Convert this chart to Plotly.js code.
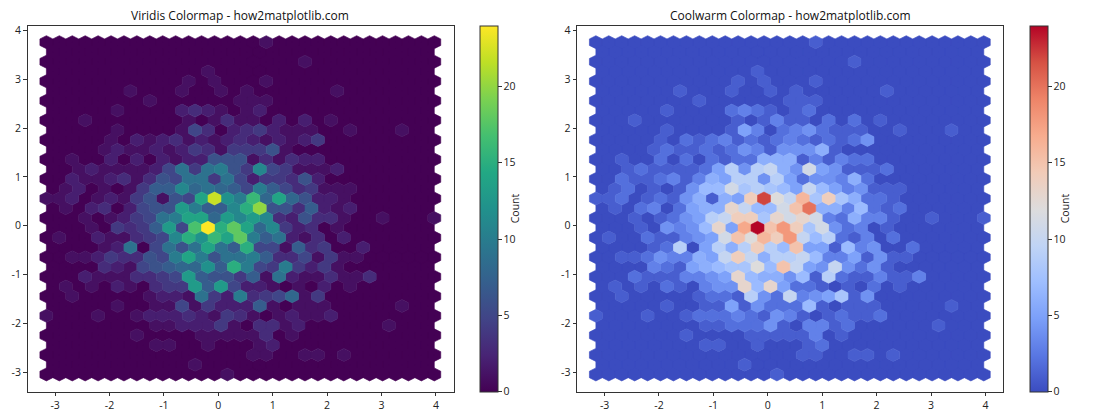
<!DOCTYPE html>
<html>
<head>
<meta charset="utf-8">
<script src="https://cdn.plot.ly/plotly-3.0.1.min.js"></script>
<style>html,body{margin:0;padding:0;background:#fff}#chart{width:1120px;height:420px}</style>
</head>
<body>
<div id="chart"></div>
<script>
// Hexbin counts, top row first. Even rows sit on the 31-column lattice, odd rows on the
// 30-column lattice shifted half a bin. Columns not listed at the end of a row are 0.
const r00=[0,0,0,0,0,0,0,0,0,0,0,0,0,0,0,0,0,1];
const r01=[];
const r02=[0,0,0,0,0,0,0,0,0,0,0,0,0,0,0,0,0,0,0,0,1];
const r03=[0,0,0,0,0,0,0,0,0,0,0,0,1];
const r04=[0,0,0,0,0,0,0,0,0,0,0,1,0,1,0,0,0,1];
const r05=[0,0,0,0,0,0,1,0,0,0,1,0,0,1,0,1,0,0,0,0,0,0,1];
const r06=[0,0,0,0,0,0,0,0,1,0,0,0,0,0,0,1,1,1];
const r07=[0,0,0,0,0,1,0,0,0,0,2,3,2,1,0,1,2];
const r08=[0,0,0,1,0,0,0,0,0,0,0,1,0,1,3,1,1,0,2,0,2,0,1];
const r09=[0,0,0,0,0,1,0,0,0,0,1,5,3,0,2,3,4,2,1,1,1,0,0,1,0,0,0,1];
const r10=[0,0,0,0,0,1,0,2,1,2,3,1,2,1,2,3,2,1,2,1,2,4];
const r11=[0,0,0,0,1,2,1,1,2,1,2,4,3,1,4,4,4,6,1];
const r12=[0,0,1,0,0,2,0,2,0,2,1,2,2,6,6,6,1,3,1,3,2,2];
const r13=[0,0,1,2,1,1,1,1,2,5,9,4,9,10,6,4,11,5,4,1,1,1,2];
const r14=[0,0,2,1,1,2,3,1,3,6,5,9,9,4,9,5,2,4,4,3,6,2];
const r15=[0,1,2,0,1,0,1,4,7,7,11,8,9,8,7,5,10,7,5,3,4,1,1,1];
const r16=[1,1,2,0,1,2,1,4,6,1,6,5,14,22,12,10,16,8,14,8,6,2,2,1];
const r17=[0,1,0,2,3,0,2,5,6,6,13,10,7,7,11,15,20,6,6,3,7,2,1,2];
const r18=[0,0,0,1,0,1,2,4,5,9,10,14,14,8,13,11,13,11,3,2,6,3,3,1,0,0,1,0,0,0,1];
const r19=[0,0,0,1,0,4,3,4,7,13,5,17,24,15,18,14,8,11,4,2,3,0,1];
const r20=[0,1,0,0,2,1,1,3,4,5,11,15,12,16,14,18,10,7,9,2,1,3,0,2];
const r21=[0,0,0,0,1,2,9,0,5,9,6,9,14,9,7,15,5,5,1,7,3,4,0,0,2];
const r22=[0,0,1,1,2,4,3,3,6,5,10,14,10,6,9,9,10,7,3,3,5,1,4,1,1];
const r23=[0,0,0,0,3,2,1,5,6,7,8,8,12,7,15,10,5,4,10,4,2,4,1];
const r24=[0,0,0,2,1,1,1,3,3,4,5,13,7,6,6,4,7,1,9,2,1,1,3,1,1,3];
const r25=[0,1,0,1,0,2,1,0,3,4,4,13,7,13,5,2,2,1,0,1,0,2,0,1];
const r26=[0,0,1,0,0,0,0,0,1,2,2,1,9,4,2,10,3,4,5,8,1,4];
const r27=[0,0,0,0,0,1,0,0,1,1,5,1,4,2,2,2,7,1,0,1,1,1,0,0,0,0,0,1];
const r28=[1,0,0,0,1,0,0,1,2,2,2,3,2,1,4,3,1,0,1,2,1,1,2];
const r29=[0,0,0,0,0,0,0,0,1,1,2,2,2,4,1,0,3,3,1,2,0,0,0,0,0,0,1];
const r30=[0,0,0,0,0,0,0,1,0,0,0,0,1,1,1,1,1,3,0,1];
const r31=[0,0,0,0,0,0,0,0,1,1,0,0,1,0,0,0,1,2];
const r32=[0,0,0,0,0,0,0,0,0,0,0,0,0,0,0,0,1,1,0,0,1,1,0,1];
const r33=[0,0,0,0,0,0,0,0,0,0,0,1];
const r34=[0,0,0,0,0,0,0,0,0,0,0,0,0,0,1];
const hexRows=[r00,r01,r02,r03,r04,r05,r06,r07,r08,r09,r10,r11,r12,r13,r14,r15,r16,r17,
               r18,r19,r20,r21,r22,r23,r24,r25,r26,r27,r28,r29,r30,r31,r32,r33,r34];

const xMin=-3.16, xMax=3.97, yTop=3.755, yBottom=-3.04, nCols=30, nBinsY=17, vMax=24;
const xTicks=[-3,-2,-1,0,1,2,3,4], yTicks=[-3,-2,-1,0,1,2,3,4], cbarTicks=[0,5,10,15,20];
const viridis=['#440154','#482475','#414487','#355f8d','#2a788e','#21918c','#22a884','#44bf70','#7ad151','#bddf26','#fde725'];
const coolwarm=['#3b4cc0','#5977e3','#7b9ff9','#9ebeff','#c0d4f5','#dddcdc','#f2cbb7','#f7ac8e','#ee8468','#d65244','#b40426'];
const panels=[
  {title:'Viridis Colormap - how2matplotlib.com',stops:viridis,xa:'x',ya:'y',left:27.5,right:453.5,cbar:480},
  {title:'Coolwarm Colormap - how2matplotlib.com',stops:coolwarm,xa:'x2',ya:'y2',left:577,right:1003,cbar:1030}
];

const W=1120,H=420,plotTop=26,plotBottom=391.5;
const sx=(xMax-xMin)/nCols, sy=(yTop-yBottom)/nBinsY;

function hex2rgb(h){return [1,3,5].map(i=>parseInt(h.substr(i,2),16));}
function colorAt(stops,t){
  const p=Math.min(t,1)*(stops.length-1),i=Math.min(Math.floor(p),stops.length-2),f=p-i;
  const a=hex2rgb(stops[i]),b=hex2rgb(stops[i+1]);
  return 'rgb('+a.map((v,k)=>Math.round(v+(b[k]-v)*f)).join(',')+')';
}
function cells(){
  const out=[];
  hexRows.forEach((row,r)=>{
    const odd=r%2===1,n=odd?nCols:nCols+1;
    for(let c=0;c<n;c++){
      out.push({x:xMin+(c+(odd?0.5:0))*sx,y:yTop-r*sy/2,v:row[c]||0});
    }
  });
  return out;
}
const all=cells();
const traces=[];
panels.forEach(p=>{
  for(let v=0;v<=vMax;v++){
    const xs=[],ys=[];
    all.filter(c=>c.v===v).forEach(c=>{
      xs.push(c.x+sx/2,c.x+sx/2,c.x,c.x-sx/2,c.x-sx/2,c.x,c.x+sx/2,null);
      ys.push(c.y-sy/6,c.y+sy/6,c.y+sy/3,c.y+sy/6,c.y-sy/6,c.y-sy/3,c.y-sy/6,null);
    });
    if(!xs.length) continue;
    const col=colorAt(p.stops,v/vMax);
    traces.push({type:'scatter',mode:'lines',x:xs,y:ys,xaxis:p.xa,yaxis:p.ya,fill:'toself',fillcolor:col,
      line:{color:col,width:0.6},hoverinfo:'skip',showlegend:false});
  }
  traces.push({type:'scatter',mode:'markers',x:all.map(c=>c.x),y:all.map(c=>c.y),xaxis:p.xa,yaxis:p.ya,
    showlegend:false,hovertemplate:'%{x:.2f}, %{y:.2f}<br>Count %{marker.color}<extra></extra>',
    marker:{size:1,color:all.map(c=>c.v),cmin:0,cmax:vMax,
      colorscale:p.stops.map((s,i)=>[i/(p.stops.length-1),s]),
      colorbar:{x:p.cbar/W,xref:'paper',xanchor:'left',xpad:0,ypad:0,y:1-plotBottom/H,yref:'paper',yanchor:'bottom',
        len:(plotBottom-plotTop)/H,lenmode:'fraction',thickness:18,thicknessmode:'pixels',
        outlinewidth:1,outlinecolor:'#333',tickmode:'array',tickvals:cbarTicks,ticks:'outside',ticklen:3.5,tickwidth:1,tickcolor:'#333',
        tickfont:{family:FONT(),size:10.5,color:'#222'},
        title:{text:'Count',side:'right',font:{family:FONT(),size:10.5,color:'#222'}}}}});
});
function FONT(){return '"Open Sans", "Noto Sans", sans-serif';}

function axis(dom,range,ticks,anchor){
  return {domain:dom,range:range,anchor:anchor,tickmode:'array',tickvals:ticks,ticktext:ticks.map(String),
    showgrid:false,zeroline:false,showline:true,mirror:true,linecolor:'#333',linewidth:1,
    ticks:'outside',ticklen:3.5,tickwidth:1,tickcolor:'#333',tickfont:{family:FONT(),size:10.5,color:'#222'}};
}
const xr=[-3.507,4.323], yr=[-3.389,4.086];
const yDom=[1-plotBottom/H,1-plotTop/H];
const layout={
  width:W,height:H,margin:{l:0,r:0,t:0,b:0},paper_bgcolor:'#fff',plot_bgcolor:'#fff',
  hovermode:'closest',
  xaxis:axis([panels[0].left/W,panels[0].right/W],xr,xTicks,'y'),
  yaxis:axis(yDom,yr,yTicks,'x'),
  xaxis2:axis([panels[1].left/W,panels[1].right/W],xr,xTicks,'y2'),
  yaxis2:axis(yDom,yr,yTicks,'x2'),
  annotations:panels.map(p=>({text:p.title,xref:'paper',yref:'paper',x:(p.left+p.right)/2/W,y:1-15.5/H,
    xanchor:'center',yanchor:'middle',showarrow:false,font:{family:FONT(),size:12,color:'#111'}}))
};
Plotly.newPlot('chart',traces,layout,{displayModeBar:false,responsive:false});
</script>
</body>
</html>
